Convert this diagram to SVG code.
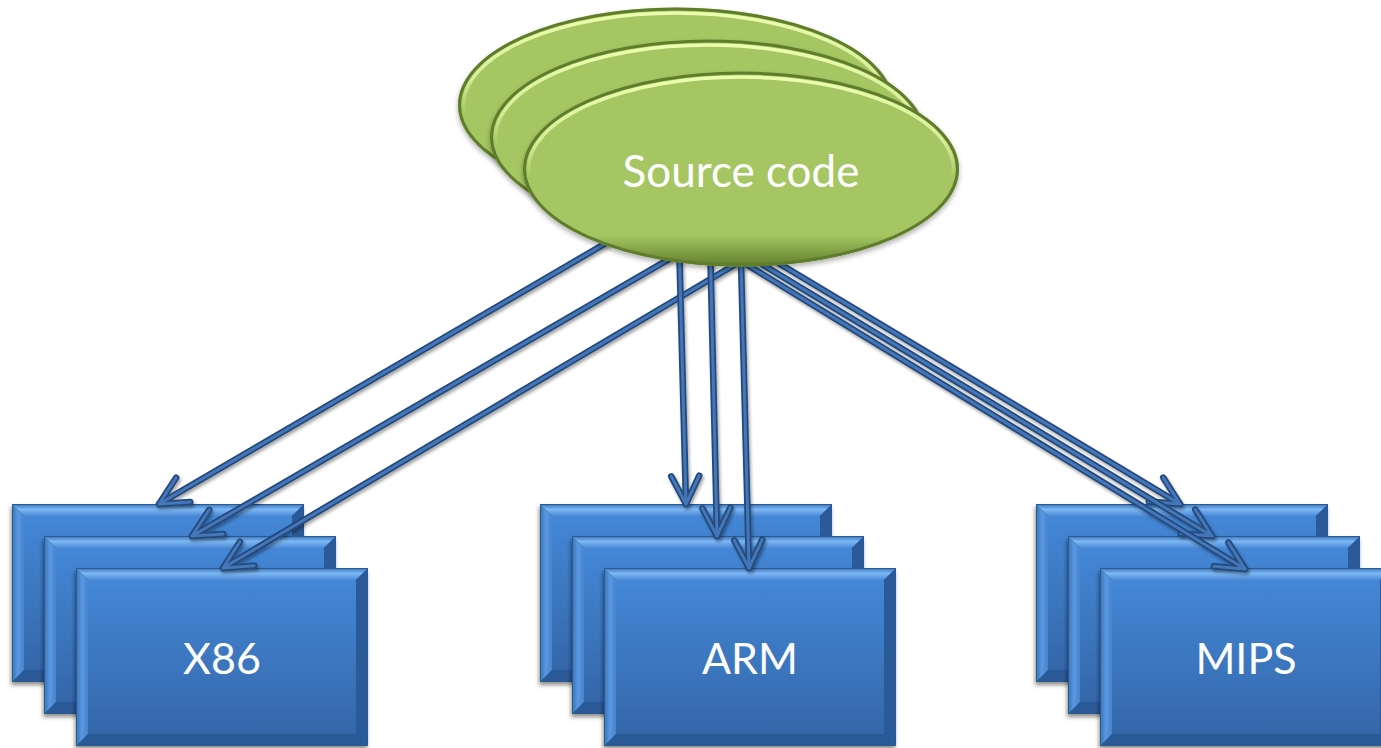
<svg xmlns="http://www.w3.org/2000/svg" xmlns:xlink="http://www.w3.org/1999/xlink" width="1381" height="748" viewBox="0 0 1381 748">
<style>
  .lbl { font-family: Lato, "Open Sans", "Liberation Sans", sans-serif; font-size: 43px; fill: #ffffff; text-anchor: middle; }
  .con { fill: none; stroke: #24497b; stroke-width: 6.5; stroke-linecap: round; marker-end: url(#ah); }
  .conhi { fill: none; stroke: #4477b8; stroke-width: 3; stroke-linecap: round; }
</style>
<defs>
  <linearGradient id="gFace" x1="0" y1="0" x2="0" y2="1">
    <stop offset="0" stop-color="#4487d6"/>
    <stop offset="1" stop-color="#3467aa"/>
  </linearGradient>
  <linearGradient id="gTop" x1="0" y1="0" x2="0" y2="1">
    <stop offset="0" stop-color="#3b74ba"/>
    <stop offset="0.45" stop-color="#7db7f3"/>
    <stop offset="1" stop-color="#4b8ad6"/>
  </linearGradient>
  <linearGradient id="gLeft" x1="0" y1="0" x2="1" y2="0">
    <stop offset="0" stop-color="#3a72b8"/>
    <stop offset="0.5" stop-color="#5b98e0"/>
    <stop offset="1" stop-color="#4584d0"/>
  </linearGradient>
  <linearGradient id="gEllShade" x1="0" y1="0" x2="0" y2="1">
    <stop offset="0" stop-color="#4f6b1e" stop-opacity="0"/>
    <stop offset="0.84" stop-color="#4f6b1e" stop-opacity="0"/>
    <stop offset="1" stop-color="#4f6b1e" stop-opacity="0.8"/>
  </linearGradient>
  <linearGradient id="gEllHi" x1="0" y1="0" x2="0" y2="1">
    <stop offset="0" stop-color="#ecffb0" stop-opacity="1"/>
    <stop offset="0.35" stop-color="#ecffb0" stop-opacity="0.7"/>
    <stop offset="0.55" stop-color="#ecffb0" stop-opacity="0"/>
  </linearGradient>
  <filter id="shBox" x="-10%" y="-10%" width="120%" height="125%">
    <feDropShadow dx="-1" dy="3" stdDeviation="2" flood-color="#000" flood-opacity="0.45"/>
  </filter>
  <filter id="shLine" x="-10%" y="-10%" width="120%" height="120%">
    <feDropShadow dx="1.5" dy="2.5" stdDeviation="1.5" flood-color="#000" flood-opacity="0.35"/>
  </filter>
  <filter id="shEll" x="-10%" y="-10%" width="120%" height="125%">
    <feDropShadow dx="0" dy="3" stdDeviation="2.5" flood-color="#000" flood-opacity="0.3"/>
  </filter>
  <marker id="ah" markerUnits="userSpaceOnUse" viewBox="-36 -20 42 40" refX="0" refY="0" markerWidth="42" markerHeight="40" orient="auto">
    <path d="M -28 -14 L 0 0 L -28 14" fill="none" stroke="#24497b" stroke-width="6.5" stroke-linecap="round" stroke-linejoin="round"/>
    <path d="M -28 -14 L 0 0 L -28 14" fill="none" stroke="#4477b8" stroke-width="3" stroke-linecap="round" stroke-linejoin="round"/>
  </marker>
  <g id="box">
    <rect x="0" y="0" width="292" height="178" fill="#3c78c2"/>
    <polygon points="0,0 292,0 280,12 12,12" fill="url(#gTop)"/>
    <polygon points="0,0 12,12 12,166 0,178" fill="url(#gLeft)"/>
    <polygon points="292,0 292,178 280,166 280,12" fill="#2a5a98"/>
    <polygon points="0,178 12,166 280,166 292,178" fill="#2b5a96"/>
    <rect x="12" y="12" width="268" height="154" fill="url(#gFace)"/>
    <rect x="0.5" y="0.5" width="291" height="177" fill="none" stroke="#2a5890" stroke-width="1"/>
  </g>
  <g id="ell">
    <ellipse cx="0" cy="0" rx="218" ry="97.5" fill="#a6c663"/>
    <ellipse cx="0" cy="0" rx="218" ry="97.5" fill="url(#gEllShade)"/>
    <ellipse cx="0" cy="0" rx="212.5" ry="92" fill="none" stroke="url(#gEllHi)" stroke-width="3.5"/>
    <ellipse cx="0" cy="0" rx="216.5" ry="96" fill="none" stroke="#5f7d2c" stroke-width="3"/>
  </g>
</defs>
<rect x="0" y="0" width="1381" height="748" fill="#ffffff"/>

<g id="node-x86">
  <use xlink:href="#box" href="#box" x="12" y="504" filter="url(#shBox)"/>
  <use xlink:href="#box" href="#box" x="44" y="536" filter="url(#shBox)"/>
  <use xlink:href="#box" href="#box" x="76" y="568" filter="url(#shBox)"/>
  <text class="lbl" x="222" y="674">X86</text>
</g>
<g id="node-arm">
  <use xlink:href="#box" href="#box" x="540" y="504" filter="url(#shBox)"/>
  <use xlink:href="#box" href="#box" x="572" y="536" filter="url(#shBox)"/>
  <use xlink:href="#box" href="#box" x="604" y="568" filter="url(#shBox)"/>
  <text class="lbl" x="750" y="674">ARM</text>
</g>
<g id="node-mips">
  <use xlink:href="#box" href="#box" x="1036" y="504" filter="url(#shBox)"/>
  <use xlink:href="#box" href="#box" x="1068" y="536" filter="url(#shBox)"/>
  <use xlink:href="#box" href="#box" x="1100" y="568" filter="url(#shBox)"/>
  <text class="lbl" x="1246" y="674">MIPS</text>
</g>

<g id="connectors" filter="url(#shLine)">
  <path class="con" d="M 625 232 L 159 504"/>
  <path class="conhi" d="M 625 232 L 159 504"/>
  <path class="con" d="M 690 247 L 192 536"/>
  <path class="conhi" d="M 690 247 L 192 536"/>
  <path class="con" d="M 741 261 L 223 568"/>
  <path class="conhi" d="M 741 261 L 223 568"/>
  <path class="con" d="M 679 240 L 686 504"/>
  <path class="conhi" d="M 679 240 L 686 504"/>
  <path class="con" d="M 710 240 L 717 536"/>
  <path class="conhi" d="M 710 240 L 717 536"/>
  <path class="con" d="M 741 261 L 749 568"/>
  <path class="conhi" d="M 741 261 L 749 568"/>
  <path class="con" d="M 770 258 L 1180 504"/>
  <path class="conhi" d="M 770 258 L 1180 504"/>
  <path class="con" d="M 755 260 L 1212 536"/>
  <path class="conhi" d="M 755 260 L 1212 536"/>
  <path class="con" d="M 741 261 L 1245 569"/>
  <path class="conhi" d="M 741 261 L 1245 569"/>
</g>

<g id="node-source">
  <use xlink:href="#ell" href="#ell" x="676" y="105" filter="url(#shEll)"/>
  <use xlink:href="#ell" href="#ell" x="708" y="137" filter="url(#shEll)"/>
  <use xlink:href="#ell" href="#ell" x="741" y="169" filter="url(#shEll)"/>
  <text class="lbl" x="741" y="187" style="font-size:44px">Source code</text>
</g>
</svg>
